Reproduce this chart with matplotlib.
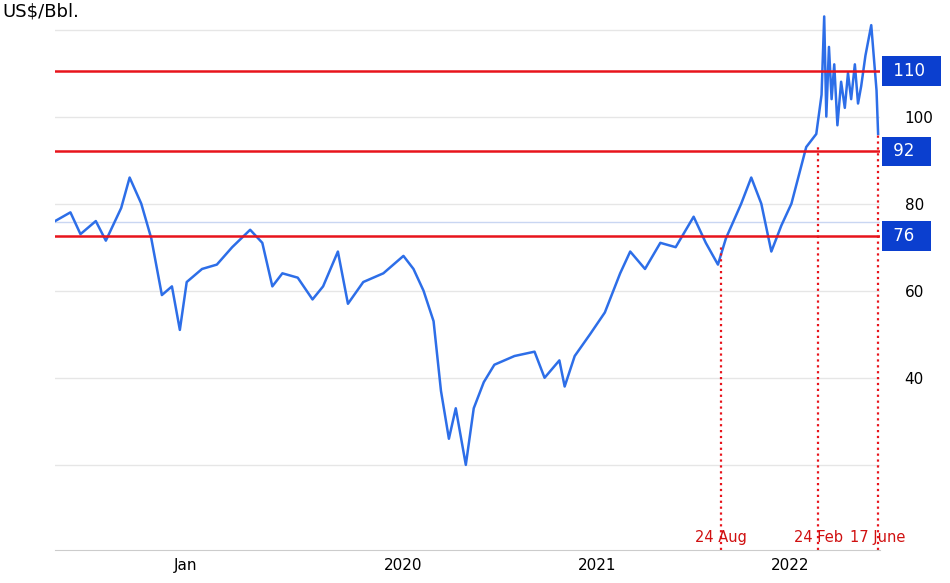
import pandas as pd
import matplotlib.pyplot as plt

# Brent price (US$/bbl)
dates = ["2018-03-13","2018-04-11","2018-04-30","2018-05-29","2018-06-17","2018-07-16","2018-08-01",
         "2018-08-23","2018-09-11","2018-10-01","2018-10-20","2018-11-04","2018-11-17","2018-12-16",
         "2019-01-13","2019-02-11","2019-03-17","2019-04-09","2019-04-28","2019-05-17","2019-06-15",
         "2019-07-13","2019-08-02","2019-08-30","2019-09-18","2019-10-17","2019-11-24","2020-01-01",
         "2020-01-20","2020-02-08","2020-02-27","2020-03-12","2020-03-27","2020-04-09","2020-04-28",
         "2020-05-13","2020-06-01","2020-06-21","2020-07-29","2020-09-05","2020-09-24","2020-10-22",
         "2020-11-01","2020-11-20","2020-12-19","2021-01-16","2021-02-14","2021-03-05","2021-04-02",
         "2021-05-01","2021-05-30","2021-07-03","2021-07-26","2021-08-18","2021-09-02","2021-10-01",
         "2021-10-20","2021-11-08","2021-11-27","2021-12-16","2022-01-04","2022-02-01","2022-02-20",
         "2022-03-02","2022-03-07","2022-03-11","2022-03-16","2022-03-21","2022-03-26","2022-04-01",
         "2022-04-08","2022-04-15","2022-04-21","2022-04-27","2022-05-04","2022-05-10","2022-05-16",
         "2022-05-24","2022-06-04","2022-06-10","2022-06-14","2022-06-17"]
price = [76, 78, 73, 76, 71.5, 79, 86, 80, 72, 59, 61, 51, 62, 65, 66, 70, 74, 71, 61, 64, 63,
         58, 61, 69, 57, 62, 64, 68, 65, 60, 53, 37, 26, 33, 20, 33, 39, 43, 45, 46, 40, 44, 38, 45,
         50, 55, 64, 69, 65, 71, 70, 77, 71, 66, 72, 80, 86, 80, 69, 75, 80, 93, 96, 105, 123, 100,
         116, 104, 112, 98, 108, 102, 110, 104, 112, 103, 107, 114, 121, 112, 106, 96]

levels = [110.5, 92, 72.5]
level_labels = ["110", "92", "76"]
event_dates = ["2021-08-24", "2022-02-24", "2022-06-17"]
event_labels = ["24 Aug", "24 Feb", "17 June"]
event_prices = [70, 93, 96]

d = pd.to_datetime(dates)
fig = plt.figure(figsize=(9.5, 5.83), dpi=100)
ax = fig.add_axes([0.058, 0.057, 0.868, 0.926])
blue = "#2d6ee8"
red = "#e8141c"

ax.axhline(75.7, color="#c9d6f2", lw=1)
ax.plot(d, price, color=blue, lw=1.8)
for lv, lb in zip(levels, level_labels):
    ax.axhline(lv, color=red, lw=1.8)
    ax.text(1.01, lv, f" {lb}  ", transform=ax.get_yaxis_transform(), va="center", ha="left",
            color="white", fontsize=12,
            bbox=dict(boxstyle="square,pad=0.35", fc="#0b3fcf", ec="none"))
for ed, el, ep in zip(event_dates, event_labels, event_prices):
    t = pd.Timestamp(ed)
    ax.plot([t, t], [0.5, ep], color=red, ls=":", lw=1.6)
    ax.text(t, 1.5, el, color="#d01010", fontsize=10.5, ha="center", va="bottom")

ax.set_ylim(0.5, 124.5)
ax.set_xlim(pd.Timestamp("2018-03-13"), pd.Timestamp("2022-06-20"))
ax.set_yticks([20, 40, 60, 80, 100, 120])
ax.set_yticklabels(["", "40", "60", "80", "100", ""])
ax.yaxis.tick_right()
ax.tick_params(axis="y", length=0, pad=18, labelsize=11)
ax.grid(axis="y", color="#e6e6e6", lw=1)
ax.set_xticks(pd.to_datetime(["2018-11-15", "2020-01-01", "2021-01-01", "2022-01-01"]))
ax.set_xticklabels(["Jan", "2020", "2021", "2022"])
ax.tick_params(axis="x", length=0, labelsize=11, pad=6)
for s in ["top", "right", "left"]:
    ax.spines[s].set_visible(False)
ax.spines["bottom"].set_color("#cccccc")
fig.text(0.003, 0.995, "US$/Bbl.", fontsize=13, va="top", ha="left")
fig.savefig("out.png")
